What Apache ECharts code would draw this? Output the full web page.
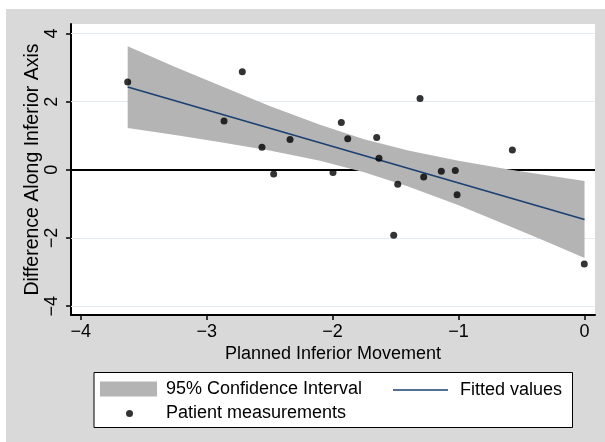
<!DOCTYPE html>
<html>
<head>
<meta charset="utf-8">
<script src="https://cdn.jsdelivr.net/npm/echarts@6/dist/echarts.min.js"></script>
<style>
  html, body { margin: 0; padding: 0; background: #ffffff; }
  #chart { width: 605px; height: 442px; }
</style>
</head>
<body>
<div id="chart"></div>
<script>
// Patient measurements: planned inferior movement vs. difference along inferior axis
const plannedMovement = [-3.627, -2.862, -2.717, -2.561, -2.468, -2.338, -1.997, -1.931, -1.880, -1.650,
                         -1.632, -1.515, -1.483, -1.306, -1.277, -1.137, -1.026, -1.012, -0.573, -0.002];
const axisDifference  = [2.58, 1.43, 2.88, 0.66, -0.12, 0.89, -0.08, 1.39, 0.91, 0.95,
                         0.34, -1.92, -0.42, 2.09, -0.21, -0.04, -0.02, -0.73, 0.58, -2.76];

// Linear fit and its 95% confidence band
const fitX = [-3.627, 0];
const fitY = [2.43, -1.46];
const bandX     = [-3.627, -3.25, -2.9, -2.5, -2.1, -1.75, -1.4, -1.0, -0.6, -0.3, 0];
const bandUpper = [3.63, 3.02, 2.48, 1.87, 1.32, 0.90, 0.57, 0.27, 0.01, -0.16, -0.33];
const bandLower = [1.23, 1.02, 0.82, 0.57, 0.27, -0.07, -0.49, -1.04, -1.65, -2.11, -2.59];

// Axis ticks, grid lines and the reference line
const xTicks = [-4, -3, -2, -1, 0];
const yTicks = [-4, -2, 0, 2, 4];
const yGridLines = [-4, -2, 2, 4];
const referenceY = 0;

const seriesNames = ['95% Confidence Interval', 'Fitted values', 'Patient measurements'];

const FONT = 'Liberation Sans';
const minus = v => String(v).replace('-', '\u2212');

// legend marker: a dot centred in a wide, otherwise empty box
const DOT_ICON = 'path://M0 3.5L0 3.5M57 3.5L57 3.5M26 3.5A3.5 3.5 0 1 1 33 3.5A3.5 3.5 0 1 1 26 3.5Z';

const chart = echarts.init(document.getElementById('chart'), null, { renderer: 'canvas' });

const legendText = { fontFamily: FONT, fontSize: 18, color: '#000' };

chart.setOption({
  backgroundColor: '#ffffff',
  animation: false,
  graphic: [
    { type: 'rect', z: -10, silent: true,
      shape: { x: 6, y: 9, width: 599, height: 433 },
      style: { fill: '#d9d9d9' } },
    { type: 'rect', z: 0, silent: true,
      shape: { x: 94, y: 372.5, width: 478.5, height: 55 },
      style: { fill: '#ffffff', stroke: '#000000', lineWidth: 1 } }
  ],
  grid: {
    left: 71, top: 24, width: 524, height: 291,
    show: true, backgroundColor: '#ffffff', borderWidth: 0
  },
  xAxis: {
    type: 'value', min: -4.077, max: 0.083,
    name: 'Planned Inferior Movement', nameLocation: 'middle', nameGap: 30, nameMoveOverlap: false,
    nameTextStyle: { fontFamily: FONT, fontSize: 18, color: '#000' },
    axisLine: { show: true, onZero: false, lineStyle: { color: '#000', width: 2 } },
    axisTick: { show: true, length: 5, customValues: xTicks, lineStyle: { color: '#000', width: 1.5 } },
    axisLabel: { customValues: xTicks, margin: 8, fontFamily: FONT, fontSize: 18, color: '#000',
                 formatter: minus },
    splitLine: { show: false }
  },
  yAxis: {
    type: 'value', min: -4.26, max: 4.28,
    name: 'Difference Along Inferior Axis', nameLocation: 'middle', nameGap: 28, nameRotate: 90,
    nameMoveOverlap: false,
    nameTextStyle: { fontFamily: FONT, fontSize: 19.5, color: '#000' },
    axisLine: { show: true, onZero: false, lineStyle: { color: '#000', width: 2 } },
    axisTick: { show: true, length: 5, customValues: yTicks, lineStyle: { color: '#000', width: 1.5 } },
    axisLabel: { customValues: yTicks, rotate: 90, margin: 10, fontFamily: FONT, fontSize: 18, color: '#000',
                 formatter: minus },
    splitLine: { show: false }
  },
  legend: [
    { data: [seriesNames[0]], left: 100, top: 380, padding: 0, z: 5,
      itemWidth: 57, itemHeight: 15, icon: 'rect',
      textStyle: Object.assign({ padding: [0, 0, 0, 4] }, legendText) },
    { data: [seriesNames[1]], left: 393, top: 381, padding: 0, z: 5,
      itemWidth: 55, itemHeight: 1.5, icon: 'rect',
      textStyle: Object.assign({ padding: [0, 0, 0, 7] }, legendText) },
    { data: [seriesNames[2]], left: 100, top: 404.5, padding: 0, z: 5,
      itemWidth: 57, itemHeight: 7, icon: DOT_ICON, symbolKeepAspect: false,
      textStyle: Object.assign({ padding: [0, 0, 0, 4] }, legendText) }
  ],
  series: [
    {
      // grid lines and the y = 0 reference line, beneath the band
      name: 'reference', type: 'line', data: [], z: 1, silent: true,
      markLine: {
        silent: true, symbol: 'none', z: 1, label: { show: false },
        data: yGridLines.map(v => ({ yAxis: v, lineStyle: { color: '#e4ebf0', width: 1, type: 'solid' } }))
          .concat([{ yAxis: referenceY, lineStyle: { color: '#000000', width: 2, type: 'solid' } }])
      }
    },
    {
      name: seriesNames[0], type: 'custom', z: 2, silent: true,
      itemStyle: { color: '#b4b4b4' },
      data: bandX.map((x, i) => [x, bandLower[i], bandUpper[i]]),
      encode: { x: 0, y: [1, 2] },
      renderItem: function (params, api) {
        if (params.dataIndex !== 0) return null;
        const pts = [];
        for (let i = 0; i < bandX.length; i++) pts.push(api.coord([bandX[i], bandUpper[i]]));
        for (let i = bandX.length - 1; i >= 0; i--) pts.push(api.coord([bandX[i], bandLower[i]]));
        return { type: 'polygon', shape: { points: pts }, style: { fill: '#b4b4b4' } };
      }
    },
    {
      name: seriesNames[1], type: 'line', z: 3, silent: true,
      data: fitX.map((x, i) => [x, fitY[i]]),
      showSymbol: false, symbol: 'none',
      lineStyle: { color: '#1a3f70', width: 1.5 },
      itemStyle: { color: '#1a3f70' }
    },
    {
      name: seriesNames[2], type: 'scatter', z: 4, silent: true,
      data: plannedMovement.map((x, i) => [x, axisDifference[i]]),
      symbol: 'circle', symbolSize: 7,
      itemStyle: { color: '#000000' }
    }
  ]
});
</script>
</body>
</html>
